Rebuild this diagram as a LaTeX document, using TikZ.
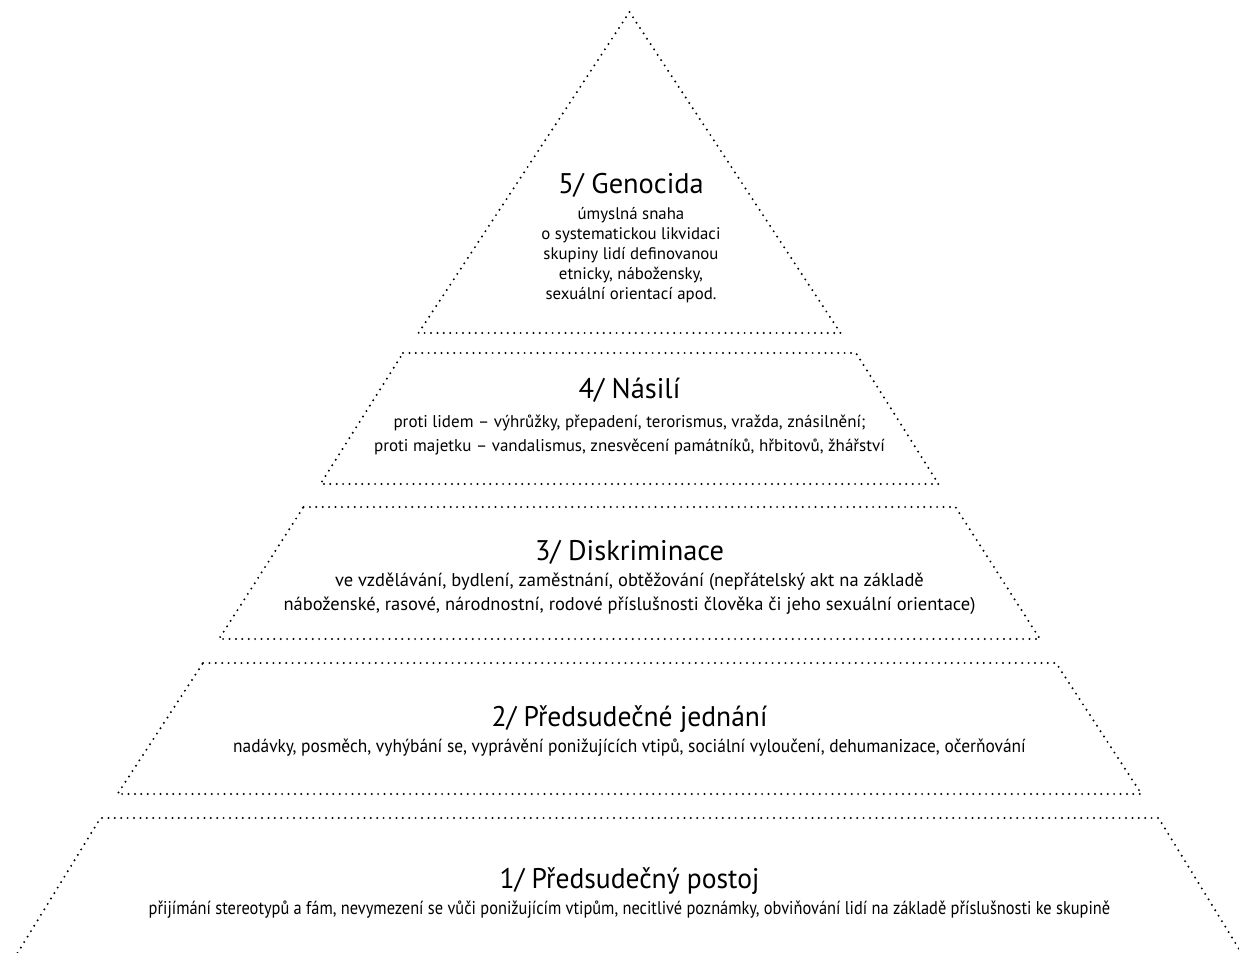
\documentclass[tikz,border=0pt]{standalone}
\usepackage{fontspec}
\setmainfont{PT Sans}
\newfontfamily\condA[FakeStretch=0.94]{PT Sans}
\newfontfamily\condB[FakeStretch=0.885]{PT Sans}
\newfontfamily\condT[FakeStretch=0.97]{PT Sans}
\usetikzlibrary{positioning}
\tikzset{
  pyrEdge/.style={
    line width=1.1pt,
    line cap=round,
    dash pattern=on 0pt off 3.2pt
  },
  levelTitle/.style={
    font=\fontsize{14.2}{16}\selectfont,
    inner sep=0pt,
    anchor=base
  },
  levelText/.style={
    font=\fontsize{9.25}{12}\selectfont,
    align=center,
    inner sep=0pt
  },
  levelTextSmall/.style={
    levelText,
    font=\fontsize{8.4}{10}\selectfont
  }
}

\begin{document}
\begin{tikzpicture}[x=0.5pt, y=-0.5pt, node distance=4pt]
  \useasboundingbox (0,0) rectangle (1239,953);

  % pyramid levels, top to bottom
  \draw[pyrEdge] (629.5,12) -- (840.5,333) -- (418.5,333) -- cycle;
  \draw[pyrEdge] (403,353) -- (856,353) -- (938.5,484) -- (320.5,484) -- cycle;
  \draw[pyrEdge] (303.5,507) -- (955.5,507) -- (1040,639) -- (219,639) -- cycle;
  \draw[pyrEdge] (203,663) -- (1056,663) -- (1141.5,794) -- (117.5,794) -- cycle;
  \draw[pyrEdge] (17.5,953) -- (100.5,818) -- (1158.5,818) -- (1241.5,953);

  % 5
  \node[levelTitle] (t5) at (631,193) {5/ Genocida};
  \node[levelTextSmall, below=5pt of t5] (d5) {úmyslná snaha\\o systematickou likvidaci\\skupiny lidí definovanou\\etnicky, nábožensky,\\sexuální orientací apod.};

  % 4
  \node[levelTitle] (t4) at (629.5,398) {4/ Násilí};
  \node[levelText, font=\fontsize{8.5}{12}\selectfont, below=6pt of t4] (d4) {proti lidem – výhrůžky, přepadení, terorismus, vražda, znásilnění;\\proti majetku – vandalismus, znesvěcení památníků, hřbitovů, žhářství};

  % 3
  \node[levelTitle] (t3) at (629.5,560) {3/ Diskriminace};
  \node[levelText, below=of t3] (d3) {ve vzdělávání, bydlení, zaměstnání, obtěžování (nepřátelský akt na základě\\náboženské, rasové, národnostní, rodové příslušnosti člověka či jeho sexuální orientace)};

  % 2
  \node[levelTitle, font=\condT\fontsize{14.2}{16}\selectfont] (t2) at (629.5,726) {2/ Předsudečné jednání};
  \node[levelText, font=\condA\fontsize{9.25}{12}\selectfont, below=3pt of t2] (d2) {nadávky, posměch, vyhýbání se, vyprávění ponižujících vtipů, sociální vyloučení, dehumanizace, očerňování};

  % 1
  \node[levelTitle, font=\condT\fontsize{14.2}{16}\selectfont] (t1) at (629.5,888) {1/ Předsudečný postoj};
  \node[levelText, font=\condB\fontsize{9.25}{12}\selectfont, below=3pt of t1] (d1) {přijímání stereotypů a fám, nevymezení se vůči ponižujícím vtipům, necitlivé poznámky, obviňování lidí na základě příslušnosti ke skupině};
\end{tikzpicture}
\end{document}
